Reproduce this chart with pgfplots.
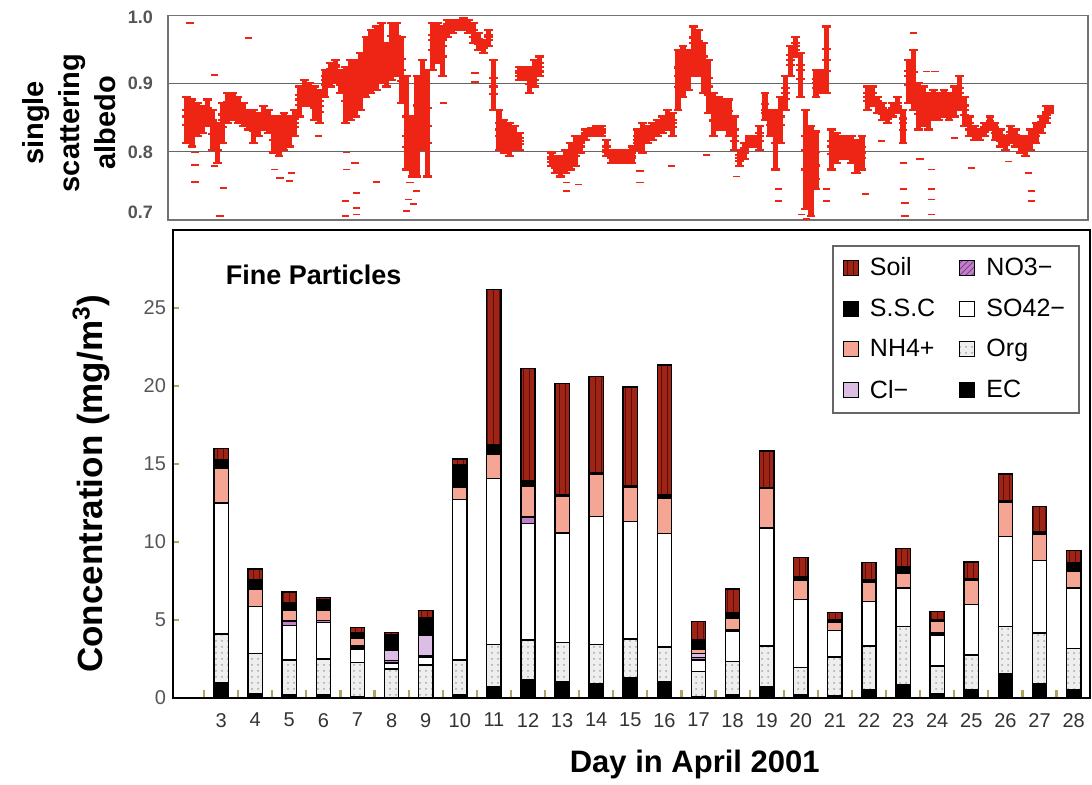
\documentclass[border=0pt]{standalone}
\usepackage{fontspec}
\setmainfont{Liberation Sans}
\usepackage{pgfplots}
\usepackage{pgfplotstable}
\pgfplotsset{compat=1.18}
\usetikzlibrary{patterns}
\definecolor{sared}{RGB}{238,36,20}
\definecolor{soil}{RGB}{158,36,22}
\definecolor{soilline}{RGB}{95,12,8}
\definecolor{nh4}{RGB}{244,165,148}
\definecolor{clm}{RGB}{220,190,228}
\definecolor{no3}{RGB}{196,125,206}
\definecolor{org}{RGB}{238,238,238}
\definecolor{tickgray}{RGB}{85,85,85}
\definecolor{tickol}{RGB}{175,165,95}

\pgfplotstableread{
d u a c b l
2.00 .881 .862 .852 .839 .813
2.15 .877 .857 .847 .834 .808
2.30 .872 .859 .852 .842 .823
2.45 .867 .854 .847 .841 .828
2.60 .877 .864 .857 .851 .838
2.75 .862 .846 .838 .826 .803
2.90 .842 .823 .813 .803 .784
3.05 .872 .855 .847 .836 .813
3.20 .886 .873 .867 .859 .842
3.35 .886 .873 .867 .860 .847
3.50 .881 .868 .862 .855 .842
3.65 .872 .859 .852 .847 .838
3.80 .862 .852 .847 .842 .833
3.95 .862 .847 .840 .831 .813
4.10 .857 .847 .842 .836 .823
4.25 .867 .857 .852 .846 .833
4.40 .862 .852 .847 .841 .828
4.55 .852 .836 .828 .818 .799
4.70 .852 .839 .833 .820 .794
4.85 .857 .842 .835 .824 .803
5.00 .852 .839 .833 .825 .808
5.15 .862 .849 .842 .836 .823
5.30 .896 .883 .877 .869 .852
5.45 .906 .896 .891 .883 .867
5.60 .901 .891 .886 .880 .867
5.75 .896 .880 .872 .864 .847
5.90 .891 .875 .867 .859 .842
6.05 .920 .911 .906 .898 .881
6.20 .930 .921 .916 .909 .896
6.35 .935 .928 .925 .917 .901
6.50 .920 .911 .906 .899 .886
6.65 .925 .902 .891 .875 .842
6.80 .935 .906 .891 .876 .847
6.95 .935 .912 .901 .885 .852
7.10 .945 .919 .906 .891 .862
7.25 .969 .940 .925 .910 .881
7.40 .979 .946 .930 .915 .886
7.55 .984 .951 .935 .920 .891
7.70 .989 .956 .940 .927 .901
7.85 .960 .937 .925 .915 .896
8.00 .989 .970 .960 .942 .906
8.15 .989 .970 .960 .943 .911
8.30 .969 .936 .920 .904 .872
8.45 .911 .852 .823 .807 .774
8.60 .852 .819 .803 .790 .764
8.75 .911 .868 .847 .819 .764
8.90 .935 .893 .872 .849 .803
9.05 .920 .865 .838 .813 .764
9.20 .989 .972 .964 .950 .920
9.35 .989 .972 .964 .953 .930
9.50 .984 .965 .955 .940 .911
9.65 .994 .987 .984 .979 .969
9.80 .994 .989 .986 .982 .974
9.95 .994 .991 .989 .986 .979
10.10 .996 .993 .991 .987 .979
10.25 .994 .989 .986 .982 .974
10.40 .989 .979 .974 .969 .960
10.55 .974 .966 .962 .958 .950
10.70 .964 .958 .955 .952 .945
10.85 .979 .972 .969 .964 .955
11.00 .935 .909 .896 .885 .862
11.15 .862 .843 .833 .823 .803
11.30 .847 .828 .818 .812 .799
11.45 .842 .826 .818 .810 .794
11.60 .838 .823 .816 .812 .803
11.75 .828 .820 .816 .812 .803
11.75 .925 .919 .916 .912 .906
11.90 .925 .919 .916 .912 .906
12.05 .925 .916 .911 .900 .886
12.20 .935 .922 .916 .906 .896
12.35 .940 .930 .925 .918 .911
12.70 .799 .792 .789 .785 .779
12.80 .794 .788 .781 .777 .769
12.95 .794 .789 .779 .774 .764
13.10 .803 .792 .786 .780 .769
13.25 .813 .800 .794 .787 .774
13.40 .823 .808 .801 .794 .779
13.55 .823 .816 .813 .808 .799
13.70 .833 .828 .825 .823 .818
13.85 .835 .832 .830 .828 .823
14.00 .838 .834 .832 .829 .823
14.15 .838 .833 .830 .828 .823
14.30 .818 .808 .803 .800 .794
14.45 .803 .797 .794 .791 .784
14.60 .803 .797 .794 .791 .784
14.75 .803 .797 .794 .791 .784
14.90 .803 .797 .794 .791 .784
15.05 .808 .799 .794 .791 .784
15.20 .833 .823 .818 .813 .803
15.35 .842 .829 .823 .815 .799
15.50 .838 .831 .828 .823 .813
15.65 .842 .836 .833 .828 .818
15.80 .847 .839 .835 .831 .823
15.95 .852 .845 .842 .837 .828
16.10 .862 .852 .847 .842 .833
16.25 .857 .847 .842 .836 .823
16.40 .950 .924 .911 .895 .862
16.55 .955 .932 .920 .907 .881
16.70 .950 .933 .925 .914 .891
16.85 .984 .968 .960 .944 .911
17.00 .979 .963 .955 .940 .911
17.15 .960 .940 .930 .915 .886
17.30 .935 .909 .896 .883 .857
17.45 .886 .867 .857 .846 .823
17.60 .881 .865 .857 .849 .833
17.75 .877 .860 .852 .846 .833
17.90 .877 .860 .852 .842 .823
18.05 .852 .833 .823 .816 .803
18.20 .803 .795 .791 .787 .779
18.35 .813 .806 .803 .798 .789
18.50 .823 .820 .818 .815 .808
18.65 .823 .820 .818 .815 .808
18.80 .838 .828 .823 .816 .803
18.95 .886 .870 .862 .857 .847
19.10 .862 .852 .847 .839 .823
19.25 .862 .843 .833 .813 .774
19.40 .881 .862 .852 .839 .813
19.55 .911 .894 .886 .878 .862
19.70 .955 .942 .935 .927 .911
19.85 .969 .960 .955 .950 .940
20.00 .945 .928 .920 .907 .881
20.15 .862 .823 .803 .774 .716
20.30 .838 .799 .779 .755 .706
20.45 .920 .907 .901 .894 .881
20.45 .830 .800 .780 .760 .745
20.60 .920 .909 .903 .897 .886
20.75 .984 .951 .935 .919 .886
20.90 .833 .816 .808 .797 .774
21.05 .828 .815 .808 .800 .784
21.20 .823 .813 .808 .802 .789
21.35 .823 .812 .806 .800 .789
21.50 .823 .810 .803 .797 .784
21.65 .818 .805 .799 .789 .769
21.80 .823 .807 .799 .791 .774
21.95 .896 .886 .881 .875 .862
22.10 .896 .886 .881 .876 .867
22.25 .881 .875 .872 .867 .857
22.40 .872 .864 .860 .856 .847
22.55 .862 .855 .852 .849 .842
22.70 .872 .865 .862 .859 .852
22.85 .881 .872 .867 .864 .857
23.00 .862 .849 .842 .832 .813
23.15 .935 .919 .911 .898 .872
23.30 .950 .917 .901 .888 .862
23.45 .901 .878 .867 .856 .833
23.60 .896 .877 .867 .857 .838
23.75 .886 .870 .862 .852 .833
23.90 .891 .875 .867 .860 .847
24.05 .886 .873 .867 .860 .847
24.20 .891 .878 .872 .865 .852
24.35 .886 .873 .867 .860 .847
24.50 .896 .883 .877 .869 .852
24.65 .911 .894 .886 .878 .862
24.80 .881 .868 .862 .854 .838
24.95 .852 .843 .838 .833 .823
25.10 .838 .831 .828 .825 .818
25.25 .833 .828 .825 .823 .818
25.40 .842 .836 .833 .830 .823
25.55 .852 .845 .842 .839 .833
25.70 .842 .836 .833 .828 .818
25.85 .833 .824 .820 .816 .808
26.00 .823 .816 .813 .810 .803
26.15 .838 .829 .825 .821 .813
26.30 .833 .824 .820 .816 .808
26.45 .823 .815 .811 .807 .799
26.60 .823 .813 .808 .803 .794
26.75 .833 .823 .818 .813 .803
26.90 .842 .833 .828 .823 .813
27.05 .852 .844 .840 .836 .828
27.20 .867 .859 .855 .850 .842
27.30 .867 .864 .862 .860 .857
}\ssa

\pgfplotstableread{
d v
2.09 .989
3.80 .967
2.82 .913
2.24 .799
2.24 .781
2.24 .756
3.07 .747
2.97 .706
2.82 .779
4.58 .774
4.73 .762
5.02 .757
5.07 .769
5.85 .823
6.64 .728
6.64 .706
6.69 .774
6.69 .799
6.93 .784
6.98 .740
6.98 .718
6.98 .708
7.56 .756
8.54 .755
8.74 .742
8.49 .730
8.64 .723
8.45 .713
9.52 .872
10.45 .916
10.45 .903
13.14 .755
13.14 .742
13.48 .752
15.29 .772
15.29 .755
16.22 .779
17.24 .796
18.12 .764
19.34 .728
19.34 .745
20.03 .708
20.18 .701
20.76 .728
20.76 .745
21.59 .769
21.89 .738
22.37 .816
23.01 .784
23.01 .745
23.06 .725
23.06 .706
23.30 .974
23.50 .789
23.69 .918
23.84 .774
23.84 .745
23.84 .730
23.84 .708
23.94 .918
24.52 .820
25.01 .776
26.09 .786
26.67 .769
26.77 .742
26.77 .728
}\ssout

\pgfplotstableread{
day EC Org SO4 NO3 Cl NH4 SSC Soil
3 1.00 3.10 8.40 0 0 2.20 0.60 0.70
4 0.30 2.57 3.00 0 0 1.10 0.60 0.70
5 0.20 2.24 2.20 0.30 0 0.70 0.50 0.65
6 0.20 2.30 2.35 0.10 0 0.70 0.65 0.15
7 0.10 2.17 0.86 0.15 0.10 0.45 0.35 0.35
8 0.05 1.80 0.40 0.15 0.65 0.10 0.90 0.15
9 0.05 2.07 0.50 0.10 1.28 0.10 1.02 0.50
10 0.20 2.24 10.28 0 0 0.76 1.50 0.33
11 0.73 2.68 10.65 0 0 1.56 0.64 9.94
12 1.20 2.53 7.45 0.43 0 1.93 0.36 7.22
13 1.05 2.50 7.03 0 0 2.32 0.10 7.16
14 0.94 2.47 8.24 0 0 2.68 0.10 6.18
15 1.27 2.50 7.56 0 0 2.15 0.10 6.36
16 1.05 2.21 7.28 0 0 2.29 0.20 8.31
17 0.08 1.61 0.75 0.15 0.28 0.26 0.60 1.18
18 0.20 2.13 1.93 0.10 0 0.76 0.36 1.50
19 0.73 2.61 7.56 0 0 2.51 0.10 2.32
20 0.20 1.77 4.33 0 0 1.24 0.26 1.22
21 0.13 2.49 1.71 0 0 0.51 0.16 0.48
22 0.56 2.78 2.85 0 0 1.22 0.20 1.09
23 0.84 3.74 2.47 0 0 0.96 0.43 1.14
24 0.30 1.76 1.99 0.11 0 0.74 0.10 0.55
25 0.56 2.20 3.22 0 0 1.56 0.10 1.07
26 1.54 3.04 5.79 0 0 2.18 0.10 1.72
27 0.94 3.22 4.66 0 0 1.66 0.21 1.60
28 0.56 2.63 3.86 0 0 1.07 0.54 0.81
}\bars

\pgfplotsset{
  lbox/.style={legend image code/.code={\draw[##1, line width=0.5pt] (0pt,-3.6pt) rectangle (7.6pt,4pt);}},
  dash/.style={sared, only marks, mark=-, mark size=2.2pt, line width=1.1pt},
}

\begin{document}
\begin{tikzpicture}
\path[use as bounding box] (0,0) rectangle (546pt,392.5pt);

% ---------- top panel: single scattering albedo ----------
\begin{axis}[
  at={(84pt,282.5pt)}, anchor=south west, scale only axis,
  width=460pt, height=102.15pt,
  xmin=1.446, xmax=28.425, ymin=0.7, ymax=1.0,
  xtick=\empty,
  ytick={0.8,0.9}, yticklabels={0.8,0.9},
  extra y ticks={0.712,0.998}, extra y tick labels={0.7,1.0},
  extra y tick style={grid=none},
  ymajorgrids, grid style={black!60, line width=0.6pt},
  major tick length=0pt,
  axis line style={black!55, line width=0.7pt},
  yticklabel style={font=\bfseries\fontsize{9}{10}\selectfont, text=tickgray, xshift=-4pt},
  ylabel={single\\scattering\\albedo},
  ylabel style={align=center, font=\bfseries\fontsize{14.5}{18}\selectfont,
    at={(axis description cs:-0.108,0.475)}, anchor=center},
  clip mode=individual,
]
\addplot[dash, error bars/.cd, y dir=both, y explicit, error mark=none,
  error bar style={line width=2.6pt, sared}]
  table[x=d, y=c, y error plus expr=\thisrow{u}-\thisrow{c}, y error minus expr=\thisrow{c}-\thisrow{l}] {\ssa};
\addplot[dash] table[x=d, y=u] {\ssa};
\addplot[dash] table[x=d, y=a] {\ssa};
\addplot[dash] table[x=d, y=b] {\ssa};
\addplot[dash] table[x=d, y=l] {\ssa};
\addplot[dash, line width=0.9pt, mark size=1.8pt] table[x=d, y=v] {\ssout};
\end{axis}

% ---------- bottom panel: fine particle composition ----------
\begin{axis}[
  at={(86.5pt,43.5pt)}, anchor=south west, scale only axis,
  width=458.5pt, height=234pt,
  xmin=1.59, xmax=28.48, ymin=0, ymax=30,
  ybar stacked, bar width=0.42,
  xtick={3,4,5,6,7,8,9,10,11,12,13,14,15,16,17,18,19,20,21,22,23,24,25,26,27,28},
  xticklabels={3,4,5,6,7,8,9,10,11,12,13,14,15,16,17,18,19,20,21,22,23,24,25,26,27,28},
  minor xtick={2.5,3.5,...,27.5},
  ytick={0,5,10,15,20,25}, yticklabels={0,5,10,15,20,25},
  tick pos=left, tick align=inside,
  major tick length=3pt, minor tick length=4pt,
  major x tick style={draw=none},
  minor x tick style={tickol, line width=1.1pt},
  major y tick style={tickol, line width=0.9pt},
  axis line style={black, line width=1pt},
  yticklabel style={font=\fontsize{10}{12}\selectfont, text=tickgray},
  xticklabel style={font=\fontsize{10}{12}\selectfont, text=black!80, yshift=-4pt},
  ylabel={Concentration (mg/m\textsuperscript{3})},
  ylabel style={font=\bfseries\fontsize{17.5}{20}\selectfont,
    at={(axis description cs:-0.0894,0.458)}, anchor=center},
  xlabel={Day in April 2001},
  xlabel style={font=\bfseries\fontsize{15.5}{18}\selectfont,
    at={(axis description cs:0.569,-0.143)}, anchor=center},
  legend columns=2, legend cell align=left,
  legend style={at={(0.989,0.968)}, anchor=north east, draw=black!60, line width=0.9pt,
    font=\fontsize{12.5}{14}\selectfont, inner xsep=5pt, inner ysep=4pt, row sep=6pt,
    /tikz/every odd column/.append style={column sep=3.5pt},
    /tikz/every even column/.append style={column sep=10pt}},
]
\addlegendimage{lbox, fill=soil, draw=black, postaction={pattern=vertical lines, pattern color=soilline}}
\addlegendentry{Soil}
\addlegendimage{lbox, fill=no3, draw=black, postaction={pattern=north east lines, pattern color=no3!60!black}}
\addlegendentry{NO3−}
\addlegendimage{lbox, fill=black, draw=black}
\addlegendentry{S.S.C}
\addlegendimage{lbox, fill=white, draw=black}
\addlegendentry{SO42−}
\addlegendimage{lbox, fill=nh4, draw=black}
\addlegendentry{NH4+}
\addlegendimage{lbox, fill=org, draw=black, postaction={pattern=dots, pattern color=gray!70}}
\addlegendentry{Org}
\addlegendimage{lbox, fill=clm, draw=black}
\addlegendentry{Cl−}
\addlegendimage{lbox, fill=black, draw=black}
\addlegendentry{EC}

\addplot[fill=black, draw=black, line width=0.7pt] table[x=day, y=EC] {\bars};
\addplot[fill=org, draw=black, line width=0.7pt, postaction={pattern=dots, pattern color=gray!70}] table[x=day, y=Org] {\bars};
\addplot[fill=white, draw=black, line width=0.7pt] table[x=day, y=SO4] {\bars};
\addplot[fill=no3, draw=black, line width=0.7pt] table[x=day, y=NO3] {\bars};
\addplot[fill=clm, draw=black, line width=0.7pt] table[x=day, y=Cl] {\bars};
\addplot[fill=nh4, draw=black, line width=0.7pt] table[x=day, y=NH4] {\bars};
\addplot[fill=black, draw=black, line width=0.7pt] table[x=day, y=SSC] {\bars};
\addplot[fill=soil, draw=black, line width=0.7pt, postaction={pattern=vertical lines, pattern color=soilline}] table[x=day, y=Soil] {\bars};

\node[anchor=west, font=\bfseries\fontsize{13.5}{16}\selectfont] at (axis description cs:0.05,0.904) {Fine Particles};
\end{axis}
\end{tikzpicture}
\end{document}
